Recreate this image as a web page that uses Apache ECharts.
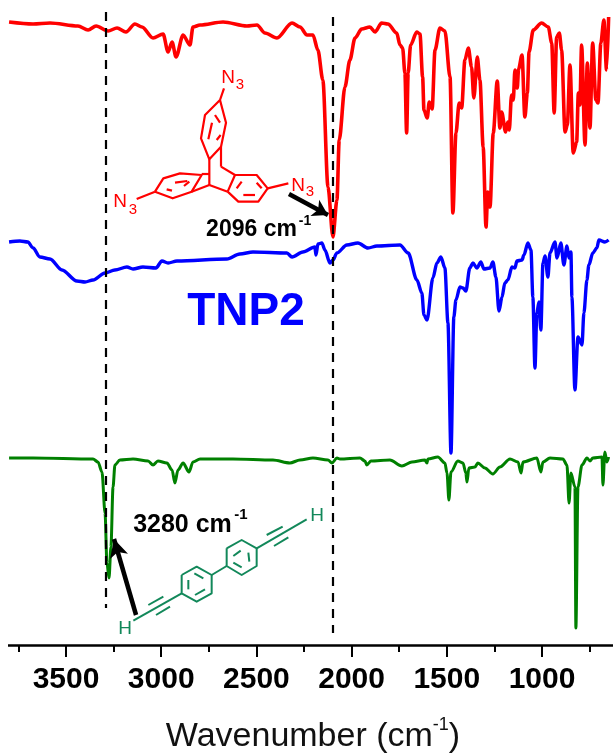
<!DOCTYPE html>
<html><head><meta charset="utf-8">
<style>html,body{margin:0;padding:0;background:#fff}#c{width:613px;height:754px}</style>
<script src="https://cdn.jsdelivr.net/npm/echarts@6/dist/echarts.min.js"></script>
</head><body><div id="c"></div>
<script>
const tickLabels = [3500,3000,2500,2000,1500,1000];
const redWave = [3799,3673,3584,3437,3384,3342,3279,3232,3185,3138,3101,3043,2990,2964,2943,2922,2885,2849,2833,2796,2675,2550,2497,2455,2392,2313,2271,2234,2203,2177,2151,2124,2098,2077,2065,2035,2009,1982,1947,1904,1877,1842,1809,1763,1746,1732,1720,1711,1703,1690,1658,1641,1627,1620,1603,1592,1577,1562,1536,1510,1483,1468,1452,1435,1422,1405,1387,1370,1358,1340,1326,1309,1294,1285,1273,1256,1235,1221,1212,1191,1180,1172,1160,1151,1142,1130,1123,1105,1090,1077,1068,1046,1002,967,949,936,923,909,897,879,867,853,836,818,809,801,792,774,762,748,734,717,706,691,675,661,650];
const redVal = [22,24,23,26,30,26,31,28,32,24,27,38,34,52,42,57,35,45,27,25,22,26,25,33,38,23,27,35,35,50,80,187,237,200,140,87,60,38,29,27,32,23,24,33,45,48,73,133,73,45,32,34,77,110,118,102,109,50,28,31,77,213,133,103,108,60,48,67,98,57,80,147,227,192,207,133,81,128,112,132,122,130,95,100,70,88,69,55,117,93,52,30,23,27,43,113,37,33,50,132,125,65,153,142,93,105,45,145,63,128,43,100,103,43,20,70,17];
const blueWave = [3799,3742,3700,3673,3637,3584,3521,3443,3400,3358,3295,3243,3180,3148,3096,3028,2996,2964,2917,2655,2587,2518,2340,2313,2256,2193,2187,2177,2156,2140,2114,2098,2077,2025,1967,1914,1867,1746,1703,1657,1631,1620,1604,1573,1552,1531,1510,1494,1478,1463,1452,1431,1415,1400,1379,1363,1342,1321,1305,1273,1258,1242,1226,1210,1195,1179,1158,1142,1132,1105,1095,1074,1058,1048,1037,1027,1016,1006,995,984,969,958,932,921,901,885,869,858,848,843,827,811,790,780,764,754,733,712,701,670,650];
const blueVal = [242,241,242,248,257,259,270,281,282,280,273,270,267,269,267,268,261,263,261,259,254,252,253,257,252,247,255,244,243,250,263,260,253,245,243,248,246,245,253,280,293,315,320,278,263,257,268,323,453,317,300,287,288,291,268,263,268,262,269,268,262,277,311,297,283,280,267,268,261,260,255,243,250,297,368,313,302,330,263,256,277,253,242,258,243,265,246,258,252,297,390,337,345,313,280,265,253,248,240,242,240];
const greenWave = [3799,3673,3358,3332,3311,3295,3285,3274,3264,3253,3243,3217,3148,3069,3043,3017,2970,2943,2928,2912,2885,2854,2833,2796,2623,2413,2324,2271,2203,2124,2103,2077,2061,1956,1930,1920,1899,1799,1736,1683,1615,1604,1599,1547,1510,1499,1489,1478,1442,1415,1400,1394,1384,1352,1337,1300,1258,1221,1168,1126,1110,1100,1027,1006,995,958,890,869,858,848,827,822,811,790,764,748,733,685,680,670,659,650];
const greenVal = [458,458,459,462,472,513,563,578,547,487,465,460,459,461,465,461,463,470,483,470,463,472,462,459,459,460,463,460,458,460,463,458,459,458,461,465,461,460,466,462,460,463,459,457,463,473,500,472,461,463,473,482,468,467,463,468,474,467,459,462,473,462,458,472,462,458,459,465,503,473,487,628,487,465,458,461,458,457,485,452,462,457];

const RED='#ff0000', BLUE='#0000ff', GREEN='#008000', MOL='#12885a', FONT='"Liberation Sans", Arial, sans-serif';
const zip=(a,b)=>a.map((x,i)=>[x,b[i]]);

function segs(list,color,w,dy){ // polylines measured on a 3x crop, with the crop's vertical offset
  return list.map(p=>{
    const pts=[];for(let i=0;i<p.length;i+=2)pts.push([p[i]/3,p[i+1]/3+dy]);
    return {type:'polyline',shape:{points:pts},style:{stroke:color,lineWidth:w,fill:null,lineJoin:'round'},silent:true,z:20};
  });
}
function txt(x,y,t,size,color,weight){
  return {type:'text',x:x,y:y,silent:true,z:21,style:{text:t,fill:color,fontSize:size,fontWeight:weight||'normal',fontFamily:FONT,textAlign:'center',textVerticalAlign:'middle'}};
}
const redMol = segs([
 [660,300,678,368,663,440,628,478,603,415,615,345,660,300],
 [645,345,660,368],[636,368,625,418],[650,420,662,405],
 [628,478,628,555],[663,440,663,500],
 [683,575,705,525,770,525,803,565,775,605,715,605,683,575],
 [663,500,705,525],[628,555,683,575],
 [710,565,725,545],[730,585,765,585],[770,548,785,565],
 [465,575,490,535,540,520,605,525,575,575,518,595,465,575],
 [605,522,628,522],[575,575,628,555],
 [525,548,562,543],[500,568,516,572],[552,558,568,545],
 [660,300,672,265],[803,565,865,550],[465,575,410,597]
],RED,2.2,0);
const greenMol = segs([
 [400,572,545,490],[445,525,490,500],[468,555,510,530],
 [545,435,590,410,635,435,635,490,590,515,545,490,545,435],
 [565,450,565,478],[583,430,610,445],[585,495,615,478],
 [635,435,680,408],
 [680,355,725,330,770,355,770,408,725,435,680,408,680,355],
 [700,378,722,362],[745,368,748,395],[700,398,725,412],
 [770,355,920,268],[800,315,848,290],[822,348,865,322]
],MOL,2,430);
const graphics = [].concat(redMol,greenMol,[
 {type:'rect',shape:{x:0,y:640,width:8,height:12},style:{fill:'#fff'},silent:true,z:30},
 txt(228,78,'N',19,RED),txt(240,85,'3',15,RED),
 txt(298,186,'N',19,RED),txt(310,192,'3',15,RED),
 txt(120,202,'N',19,RED),txt(133,210,'3',15,RED),
 txt(125,629,'H',19,MOL),txt(317,516,'H',19,MOL),
 txt(251.5,230,'2096 cm',23,'#000','bold'),txt(305,221,'-1',14,'#000','bold'),
 txt(182.5,525,'3280 cm',25,'#000','bold'),txt(241,515,'-1',15,'#000','bold'),
 txt(246,312,'TNP2',46,BLUE,'bold')
]);
function lineSeries(name,w,v,color,width,extra){
  return Object.assign({type:'line',name:name,data:zip(w,v),showSymbol:false,symbol:'none',smooth:0.3,smoothMonotone:'x',
    lineStyle:{color:color,width:width,join:'round'},silent:true,animation:false},extra||{});
}
const dash={color:'#000',width:2.2,type:[9,7]};
const guides={silent:true,symbol:'none',animation:false,label:{show:false},data:[
  [{coord:[3293,12],lineStyle:dash},{coord:[3293,608]}],
  [{coord:[2098,17],lineStyle:dash},{coord:[2098,633]}],
  [{coord:[2329,194],symbol:'none',lineStyle:{color:'#000',width:4.5,type:'solid'}},{coord:[2124,215],symbol:'arrow',symbolSize:[14,15]}],
  [{coord:[3132,615],symbol:'none',lineStyle:{color:'#000',width:4.5,type:'solid'}},{coord:[3248,539],symbol:'arrow',symbolSize:[14,18]}]
]};
const chart=echarts.init(document.getElementById('c'),null,{renderer:'canvas'});
chart.setOption({
  animation:false,backgroundColor:'#fff',
  grid:{left:-29.2,width:666.4,top:0,height:645,containLabel:false,outerBoundsMode:'none'},
  xAxis:{type:'value',inverse:true,min:500,max:4000,interval:500,position:'bottom',
    axisLine:{show:true,onZero:false,lineStyle:{color:'#000',width:2.5}},
    axisTick:{show:true,length:12,lineStyle:{color:'#000',width:2}},
    minorTick:{show:true,splitNumber:2,length:7,lineStyle:{color:'#000',width:2}},
    splitLine:{show:false},minorSplitLine:{show:false},
    axisLabel:{show:true,margin:20,fontSize:30,fontWeight:'bold',color:'#000',fontFamily:FONT,showMinLabel:false,showMaxLabel:false,
      formatter:v=>tickLabels.includes(v)?String(v):''},
    name:'{a|Wavenumber (cm}{b|-1}{a|)}',nameLocation:'middle',nameGap:71,
    nameTextStyle:{padding:[0,0,0,18],rich:{a:{fontSize:34,fontFamily:FONT,color:'#111',lineHeight:38,verticalAlign:'bottom'},b:{fontSize:18,fontFamily:FONT,color:'#111',verticalAlign:'top',lineHeight:38}}}
  },
  yAxis:{type:'value',inverse:true,min:0,max:645,show:false,splitLine:{show:false}},
  series:[
    lineSeries('TNP1',redWave,redVal,RED,3.6,{markLine:guides}),
    lineSeries('TNP2',blueWave,blueVal,BLUE,3.4),
    lineSeries('Monomer',greenWave,greenVal,GREEN,3)
  ],
  graphic:graphics
});
</script></body></html>
